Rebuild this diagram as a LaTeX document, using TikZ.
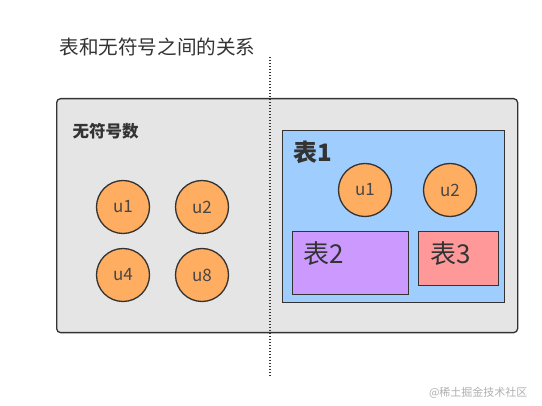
\documentclass[tikz,border=0pt]{standalone}
\usepackage{fontspec}
\setmainfont{Noto Sans CJK SC}
\definecolor{edge}{HTML}{333333}
\definecolor{graybg}{HTML}{E5E5E5}
\definecolor{orangec}{HTML}{FFAD60}
\definecolor{bluec}{HTML}{9FCDFD}
\definecolor{purplec}{HTML}{CC99FF}
\definecolor{pinkc}{HTML}{FF9999}
\definecolor{wm}{HTML}{B0B0B0}
\tikzset{
  ucircle/.style={circle, draw=edge, line width=1.3pt, fill=orangec, minimum size=53pt, inner sep=0pt, font=\fontsize{17}{17}\selectfont, text=edge!90},
  boxframe/.style={draw=edge, line width=1.3pt, inner sep=0pt},
}
\begin{document}
\begin{tikzpicture}[x=1pt,y=-1pt]
\useasboundingbox[fill=white] (0,0) rectangle (542,406);
% title
\node[anchor=west, font=\fontsize{19.6}{19.6}\selectfont, text=edge] (title) at (56,47) {表和无符号之间的关系};
% outer box
\node[boxframe, rounded corners=4pt, fill=graybg, anchor=north west, minimum width=461pt, minimum height=234pt] (outer) at (56,98) {};
\node[anchor=west, font=\fontsize{16.5}{16.5}\selectfont\bfseries, text=edge] (lbl) at (69,131) {无符号数};
% left circles
\node[ucircle] (a1) at (123,207) {u1};
\node[ucircle] (a2) at (202,207) {u2};
\node[ucircle] (a4) at (123,275) {u4};
\node[ucircle] (a8) at (202,275) {u8};
% table 1
\node[boxframe, fill=bluec, anchor=north west, minimum width=222pt, minimum height=172pt] (t1) at (282,130) {};
\node[anchor=west, font=\fontsize{24}{24}\selectfont\bfseries, text=edge] (t1l) at (290,152) {表1};
\node[ucircle] (b1) at (365,190) {u1};
\node[ucircle] (b2) at (450,190) {u2};
\node[boxframe, fill=purplec, anchor=north west, minimum width=116pt, minimum height=63pt] (t2) at (292,231) {};
\node[anchor=west, font=\fontsize{26}{26}\selectfont, text=edge] (t2l) at (300,254) {表2};
\node[boxframe, fill=pinkc, anchor=north west, minimum width=80pt, minimum height=54pt] (t3) at (418,231) {};
\node[anchor=west, font=\fontsize{26}{26}\selectfont, text=edge] (t3l) at (427,254) {表3};
% dotted divider
\coordinate (dtop) at (270,57);
\coordinate (dbot) at (270,378);
\draw[edge, line width=1.5pt, dash pattern=on 1.5pt off 1.5pt] (dtop) -- (dbot);
% watermark
\node[anchor=east, font=\fontsize{11}{11}\selectfont, text=wm] (wmk) at (531,393) {@稀土掘金技术社区};
\end{tikzpicture}
\end{document}
